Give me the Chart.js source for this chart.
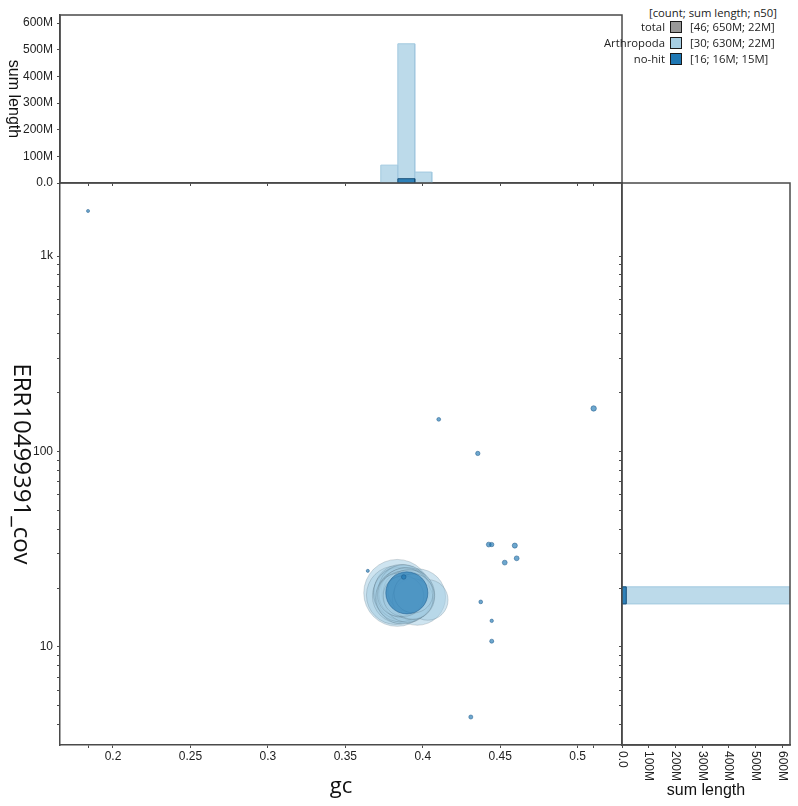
<!DOCTYPE html>
<html>
<head>
<meta charset="utf-8">
<title>blob plot</title>
<script src="https://cdn.jsdelivr.net/npm/chart.js"></script>
<style>
  body { margin: 0; background: #fff; }
  #wrap { position: relative; width: 798px; height: 806px; overflow: hidden; }
  canvas { position: absolute; }
  #scatter { left: 0; top: 183px; }
  #topHist { left: 0; top: 0; }
  #rightHist { left: 600px; top: 181px; }
  .lg { position: absolute; font-family: "Open Sans", sans-serif; font-size: 11.3px; line-height: 16px; color: #222; white-space: nowrap; }
  .sw { position: absolute; width: 12px; height: 12px; box-sizing: border-box; border: 1.5px solid #1a1a1a; }
</style>
</head>
<body>
<div id="wrap">
  <canvas id="scatter" width="622" height="623"></canvas>
  <canvas id="topHist" width="640" height="190"></canvas>
  <canvas id="rightHist" width="198" height="625"></canvas>
  <div id="legend"></div>
</div>
<script>
// contigs hit to Arthropoda (gc, coverage, length in Mb)
const arthGc = [0.3835, 0.3825, 0.3965, 0.4032, 0.3860, 0.3872, 0.3850, 0.3880, 0.3858, 0.3890,
                0.3868, 0.3905, 0.3846, 0.3878, 0.3895, 0.3862, 0.3912, 0.3870, 0.3852, 0.3920,
                0.3884, 0.3900, 0.3866, 0.3928, 0.3888, 0.3848, 0.3910, 0.3935, 0.3875, 0.3940];
const arthCov = [18.9, 18.4, 18.0, 17.4, 18.7, 19.1, 18.2, 18.5, 19.3, 18.0,
                 17.8, 18.8, 18.9, 19.5, 19.0, 18.4, 18.3, 18.8, 17.9, 18.6,
                 19.2, 17.7, 18.6, 18.1, 18.9, 18.5, 19.4, 17.6, 18.2, 18.8];
const arthLen = [38, 29, 27, 14, 26, 25, 25, 24, 24, 23,
                 23, 22, 22, 22, 21, 21, 21, 20, 20, 20,
                 19, 19, 18, 18, 17, 16, 15, 14, 14, 13];

// no-hit contigs
const noHitGc = [0.3897, 0.1839, 0.4103, 0.4355, 0.5103, 0.4426, 0.4445, 0.4594,
                 0.4606, 0.4529, 0.4374, 0.4445, 0.4445, 0.4310, 0.3645, 0.3877];
const noHitCov = [18.9, 1700, 146, 97.7, 166, 33.4, 33.4, 33.0,
                  28.4, 27.0, 17.0, 13.6, 10.7, 4.38, 24.5, 22.8];
const noHitLen = [15, 0.08, 0.12, 0.16, 0.25, 0.2, 0.16, 0.22,
                  0.2, 0.2, 0.12, 0.1, 0.14, 0.14, 0.08, 0.18];

// histograms (sum length in Mb per bin)
const gcBinEdges = [0.3729, 0.3839, 0.3948, 0.4058];
const arthGcSums = [67, 522, 41];
const noHitGcEdges = [0.3839, 0.3948];
const noHitGcSums = [16];
const covBinEdges = [16.6, 20.3];
const arthCovSums = [630];
const noHitCovSums = [16];

// axes
const gcMin = 0.1658, gcMax = 0.5286;
const covMin = 3.15, covMax = 2363;
const lenMax = 630e6;
const gcTicks = [0.2, 0.25, 0.3, 0.35, 0.4, 0.45, 0.5];
const lenTicks = [0, 100, 200, 300, 400, 500, 600];
const covLabels = { 10: '10', 100: '100', 1000: '1k' };

// legend
const legendNames = ['total', 'Arthropoda', 'no-hit'];
const legendCounts = [46, 30, 16];
const legendSpans = ['650M', '630M', '16M'];
const legendN50s = ['22M', '22M', '15M'];
const legendColors = ['#999999', '#a6cee3', '#1f78b4'];

const axisColor = '#4a4a4a';
Chart.defaults.font.family = '"Liberation Sans", Arial, sans-serif';
Chart.defaults.font.size = 12;
Chart.defaults.color = '#222';
Chart.defaults.animation = false;

const allGc = arthGc.concat(noHitGc);
const gcTickValues = gcTicks.concat([Math.min(...allGc), Math.max(...allGc)]).sort((a, b) => a - b);
const lenTickValues = lenTicks.map(v => v * 1e6);
const covTickValues = [];
for (let e = 0; e <= 3; e++) {
  for (let m = 1; m < 10; m++) {
    const v = m * Math.pow(10, e);
    if (v >= covMin && v <= 1000) covTickValues.push(v);
  }
}

function radiusFor(lenMb) {
  return Math.max(1.5, 5.43 * Math.sqrt(lenMb));
}
function points(gc, cov, len) {
  return gc.map((g, i) => ({ x: g, y: cov[i], r: radiusFor(len[i]) }));
}
// histogram bars as closed outlines: one rectangle per bin
function barOutline(edges, sums, horizontal) {
  const pts = [];
  sums.forEach((s, i) => {
    const a = edges[i], b = edges[i + 1], v = s * 1e6;
    if (horizontal) pts.push({ x: 0, y: a }, { x: v, y: a }, { x: v, y: b }, { x: 0, y: b });
    else pts.push({ x: a, y: 0 }, { x: a, y: v }, { x: b, y: v }, { x: b, y: 0 });
  });
  return pts;
}
function fmtLen(v) {
  return v === 0 ? '0.0' : Math.round(v / 1e6) + 'M';
}

const tickMarks = { drawOnChartArea: false, drawTicks: true, tickLength: 3, color: axisColor, lineWidth: 1 };
const border = { display: true, color: axisColor, width: 1.5 };
const setTicks = values => s => { s.ticks = values.map(v => ({ value: v })); };
// fixed axis thickness, and no extra room for half labels at the ends
const fixWidth = w => s => { s.width = w; s.paddingTop = 0; s.paddingBottom = 0; };
const fixHeight = h => s => { s.height = h; s.paddingLeft = 0; s.paddingRight = 0; };
const noPlugins = { legend: { display: false }, tooltip: { enabled: false } };

const arthBar = { backgroundColor: 'rgba(166,206,227,0.75)', borderColor: '#a2c9df', borderWidth: 1, fill: 'shape', pointRadius: 0, tension: 0 };
const noHitBar = { backgroundColor: 'rgba(31,120,180,0.9)', borderColor: '#174f78', borderWidth: 1, fill: 'shape', pointRadius: 0, tension: 0 };

function sideTitle(id, text, x, font) {
  return {
    id,
    afterDraw(chart) {
      const { ctx, chartArea } = chart;
      ctx.save();
      ctx.translate(x, (chartArea.top + chartArea.bottom) / 2);
      ctx.rotate(Math.PI / 2);
      ctx.font = font;
      ctx.fillStyle = '#111';
      ctx.textAlign = 'center';
      ctx.textBaseline = 'middle';
      ctx.fillText(text, 0, 0);
      ctx.restore();
    }
  };
}
const frame = {
  id: 'frame',
  afterDatasetsDraw(chart) {
    const { ctx, chartArea: a } = chart;
    ctx.save();
    ctx.strokeStyle = axisColor;
    ctx.lineWidth = 1.5;
    ctx.strokeRect(a.left, a.top, a.right - a.left, a.bottom - a.top);
    ctx.restore();
  }
};
// x tick labels of the right histogram read top to bottom
const downLabels = {
  id: 'downLabels',
  afterDraw(chart) {
    const { ctx, chartArea } = chart;
    const xs = chart.scales.x;
    ctx.save();
    ctx.font = '12px "Liberation Sans", Arial, sans-serif';
    ctx.fillStyle = '#222';
    ctx.textAlign = 'left';
    ctx.textBaseline = 'middle';
    xs.ticks.forEach(t => {
      ctx.save();
      ctx.translate(xs.getPixelForValue(t.value), chartArea.bottom + 6);
      ctx.rotate(Math.PI / 2);
      ctx.fillText(fmtLen(t.value), 0, 0);
      ctx.restore();
    });
    ctx.restore();
  }
};

// main blob plot
new Chart(document.getElementById('scatter'), {
  type: 'bubble',
  data: {
    datasets: [
      { label: 'no-hit', data: points(noHitGc, noHitCov, noHitLen),
        backgroundColor: 'rgba(31,120,180,0.65)', borderColor: 'rgba(25,85,135,0.5)', borderWidth: 1 },
      { label: 'Arthropoda', data: points(arthGc, arthCov, arthLen),
        backgroundColor: 'rgba(166,206,227,0.55)', borderColor: 'rgba(70,90,105,0.22)', borderWidth: 1 }
    ]
  },
  options: {
    responsive: false,
    layout: { padding: 0, autoPadding: false },
    plugins: noPlugins,
    scales: {
      x: {
        type: 'linear', min: gcMin, max: gcMax, bounds: 'data',
        grid: tickMarks, border,
        ticks: { autoSkip: false, maxRotation: 0, padding: 1, callback: v => gcTicks.includes(v) ? String(v) : '' },
        afterBuildTicks: setTicks(gcTickValues),
        afterFit: fixHeight(61),
        title: { display: true, text: 'gc', color: '#111', font: { family: '"Open Sans"', size: 22 }, padding: { top: 0, bottom: 6 } }
      },
      y: {
        type: 'logarithmic', min: covMin, max: covMax, bounds: 'data',
        grid: tickMarks, border,
        ticks: { autoSkip: false, padding: 4, callback: v => covLabels[v] || '' },
        afterBuildTicks: setTicks(covTickValues),
        afterFit: fixWidth(60)
      }
    }
  },
  plugins: [sideTitle('covTitle', 'ERR10499391_cov', 21, '24px "Open Sans"')]
});

// gc histogram on top
new Chart(document.getElementById('topHist'), {
  type: 'line',
  data: {
    datasets: [
      Object.assign({ label: 'no-hit', data: barOutline(noHitGcEdges, noHitGcSums, false) }, noHitBar),
      Object.assign({ label: 'Arthropoda', data: barOutline(gcBinEdges, arthGcSums, false) }, arthBar)
    ]
  },
  options: {
    responsive: false,
    layout: { padding: { top: 15, right: 18, left: 0, bottom: 0 }, autoPadding: false },
    plugins: noPlugins,
    scales: {
      x: {
        type: 'linear', min: gcMin, max: gcMax, bounds: 'data',
        grid: tickMarks, border, ticks: { display: false },
        afterBuildTicks: setTicks(gcTickValues),
        afterFit: fixHeight(7)
      },
      y: {
        type: 'linear', min: 0, max: lenMax, bounds: 'data',
        grid: tickMarks, border,
        ticks: { autoSkip: false, padding: 4, callback: v => fmtLen(v) },
        afterBuildTicks: setTicks(lenTickValues),
        afterFit: fixWidth(60)
      }
    }
  },
  plugins: [frame, sideTitle('topTitle', 'sum length', 13, '16px "Liberation Sans", Arial, sans-serif')]
});

// coverage histogram on the right
new Chart(document.getElementById('rightHist'), {
  type: 'line',
  data: {
    datasets: [
      Object.assign({ label: 'no-hit', data: barOutline(covBinEdges, noHitCovSums, true) }, noHitBar),
      Object.assign({ label: 'Arthropoda', data: barOutline(covBinEdges, arthCovSums, true) }, arthBar)
    ]
  },
  options: {
    responsive: false,
    layout: { padding: { top: 2, right: 8, left: 0, bottom: 0 }, autoPadding: false },
    plugins: noPlugins,
    scales: {
      x: {
        type: 'linear', min: 0, max: lenMax, bounds: 'data',
        grid: tickMarks, border, ticks: { display: false },
        afterBuildTicks: setTicks(lenTickValues),
        afterFit: fixHeight(61),
        title: { display: true, text: 'sum length', color: '#111', font: { size: 16 }, padding: { top: 0, bottom: 6 } }
      },
      y: {
        type: 'logarithmic', min: covMin, max: covMax, bounds: 'data',
        grid: tickMarks, border, ticks: { display: false },
        afterBuildTicks: setTicks(covTickValues),
        afterFit: fixWidth(22)
      }
    }
  },
  plugins: [frame, downLabels]
});

// legend
const legend = document.getElementById('legend');
const head = document.createElement('div');
head.className = 'lg';
head.style.right = '21px';
head.style.top = '5px';
head.textContent = '[count; sum length; n50]';
legend.appendChild(head);
legendNames.forEach((name, i) => {
  const cy = 26.7 + i * 16.3;
  const lab = document.createElement('div');
  lab.className = 'lg';
  lab.style.right = '133px';
  lab.style.top = (cy - 8) + 'px';
  lab.textContent = name;
  const sw = document.createElement('div');
  sw.className = 'sw';
  sw.style.left = '670px';
  sw.style.top = (cy - 6) + 'px';
  sw.style.background = legendColors[i];
  const val = document.createElement('div');
  val.className = 'lg';
  val.style.left = '690px';
  val.style.top = (cy - 8) + 'px';
  val.textContent = '[' + legendCounts[i] + '; ' + legendSpans[i] + '; ' + legendN50s[i] + ']';
  legend.append(lab, sw, val);
});
</script>
</body>
</html>
